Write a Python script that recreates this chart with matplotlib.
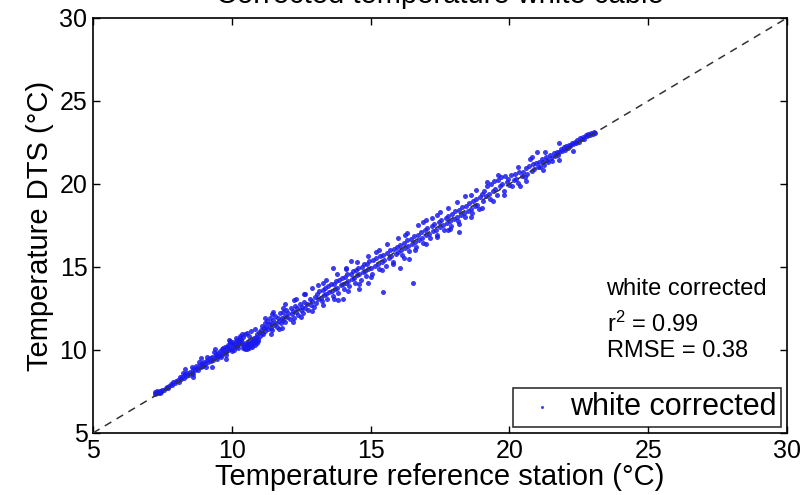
"""
Corrected DTS temperature (white cable) against the reference station,
with the 1:1 line, fit statistics and a legend in the lower right.

Output: out.png
"""
import matplotlib
matplotlib.use("Agg")
import matplotlib.pyplot as plt

plt.rcParams["font.family"] = ["Liberation Sans", "DejaVu Sans"]

# reference station temperature (x) and DTS temperature (y)
ref_temp = [
    7.22, 7.25, 7.28, 7.30, 7.33, 7.36, 7.40, 7.42, 7.45, 7.50,
    7.55, 7.62, 7.68, 7.72, 7.75, 7.80, 7.85, 7.90, 7.95, 8.00,
    8.05, 8.10, 8.12, 8.18, 8.22, 8.28, 8.32, 8.35, 8.40, 8.45,
    8.50, 8.55, 8.60, 8.62, 8.68, 8.72, 8.75, 8.80, 8.85, 8.88,
    8.92, 8.95, 9.00, 9.05, 9.08, 9.12, 9.15, 9.20, 9.25, 9.28,
    9.32, 9.38, 9.42, 9.45, 9.48, 8.25, 8.58, 8.82, 9.10, 9.35,
    9.52, 9.55, 9.58, 9.62, 9.65, 9.68, 9.72, 9.75, 9.78, 9.82,
    9.85, 9.88, 9.90, 9.94, 9.97, 10.00, 10.03, 10.06, 10.10, 10.12,
    10.15, 10.18, 10.20, 10.23, 10.26, 10.30, 10.32, 10.35, 10.38, 10.40,
    9.60, 9.80, 10.00, 10.08, 10.22, 9.70, 9.92, 10.14, 10.28, 10.36,
    10.42, 10.44, 10.45, 10.46, 10.48, 10.50, 10.50, 10.52, 10.53, 10.55,
    10.56, 10.58, 10.60, 10.60, 10.62, 10.63, 10.65, 10.66, 10.68, 10.70,
    10.72, 10.73, 10.75, 10.76, 10.78, 10.80, 10.82, 10.84, 10.86, 10.88,
    10.90, 10.92, 10.94, 10.96, 10.98, 10.55, 10.70, 10.85, 10.48, 10.62,
    11.02, 11.05, 11.08, 11.10, 11.12, 11.15, 11.18, 11.20, 11.24, 11.27,
    11.30, 11.33, 11.36, 11.40, 11.43, 11.46, 11.50, 11.53, 11.56, 11.60,
    11.63, 11.66, 11.70, 11.73, 11.76, 11.80, 11.83, 11.86, 11.90, 11.93,
    11.96, 12.00, 12.04, 12.08, 12.12, 12.16, 12.20, 12.24, 12.28, 12.32,
    12.36, 12.40, 12.44, 12.48, 12.52, 12.56, 12.60, 12.65, 12.70, 12.75,
    12.80, 12.85, 12.90, 12.95, 11.45, 11.85, 12.25, 12.62, 12.90, 11.70,
    13.00, 13.04, 13.08, 13.12, 13.16, 13.20, 13.24, 13.28, 13.32, 13.36,
    13.40, 13.44, 13.48, 13.52, 13.56, 13.60, 13.64, 13.68, 13.72, 13.76,
    13.80, 13.84, 13.88, 13.92, 13.96, 14.00, 14.04, 14.08, 14.12, 14.16,
    14.20, 14.24, 14.28, 14.32, 14.36, 14.40, 14.44, 14.48, 14.52, 14.56,
    14.60, 14.64, 14.68, 14.72, 14.76, 14.80, 14.84, 14.88, 14.92, 14.96,
    15.00, 15.05, 15.10, 15.15, 15.20, 15.25, 15.30, 15.35, 15.40, 15.45,
    15.50, 15.55, 15.60, 15.65, 15.70, 15.75, 15.80, 15.85, 15.90, 15.95,
    13.65, 13.83, 14.00, 14.30, 14.60, 14.90, 15.45, 13.30, 14.10, 15.20,
    16.00, 16.05, 16.10, 16.15, 16.20, 16.25, 16.30, 16.35, 16.40, 16.45,
    16.50, 16.55, 16.60, 16.65, 16.70, 16.75, 16.80, 16.85, 16.90, 16.95,
    17.00, 17.05, 17.10, 17.15, 17.20, 17.25, 17.30, 17.35, 17.40, 17.45,
    17.50, 17.55, 17.60, 17.65, 17.70, 17.75, 17.80, 17.85, 17.90, 17.95,
    18.00, 18.05, 18.10, 18.15, 18.20, 18.25, 18.30, 18.35, 18.40, 18.45,
    18.50, 18.55, 18.60, 18.65, 18.70, 18.75, 18.80, 18.85, 18.90, 18.95,
    16.53, 16.06, 16.40, 18.20, 16.90, 17.50, 16.25, 17.20, 18.60, 17.85,
    19.00, 19.05, 19.10, 19.15, 19.20, 19.25, 19.30, 19.35, 19.40, 19.45,
    19.50, 19.55, 19.60, 19.65, 19.70, 19.75, 19.80, 19.85, 19.90, 19.95,
    20.00, 20.05, 20.10, 20.15, 20.20, 20.25, 20.30, 20.35, 20.40, 20.45,
    20.50, 20.55, 20.60, 20.65, 20.70, 20.75, 20.80, 20.85, 20.90, 20.95,
    21.00, 21.03, 21.08, 21.12, 21.17, 21.22, 21.26, 21.31, 21.36, 21.40,
    21.45, 21.50, 21.55, 21.60, 21.64, 21.70, 21.75, 21.80, 21.85, 21.90,
    21.95, 22.00, 22.05, 22.10, 22.15, 22.20, 22.25, 22.30, 22.35, 22.40,
    22.45, 22.50, 22.55, 22.60, 22.65, 22.70, 22.75, 22.80, 22.85, 22.90,
    22.95, 23.00, 23.05, 23.10,
    # upper edge of the cloud
    8.30, 8.90, 9.40, 9.90, 11.20, 11.50, 11.90, 12.30, 12.60, 13.10,
    13.40, 13.80, 14.10, 14.50, 14.90, 15.30, 15.60, 16.00, 16.30, 16.70,
    17.00, 17.40, 17.80, 18.10, 18.40, 18.80, 19.20, 19.60, 20.30, 20.80,
    21.30, 21.80,
    # lower edge of the cloud
    8.60, 9.30, 9.80, 11.40, 11.80, 12.20, 12.50, 12.90, 13.30, 13.70,
    14.20, 14.60, 15.00, 15.40, 15.80, 16.20, 16.60, 17.00, 17.40, 17.80,
    18.20, 18.60, 19.00, 19.40, 19.80, 20.60, 21.20, 21.80, 22.30,
]
dts_temp = [
    7.35, 7.45, 7.38, 7.52, 7.42, 7.48, 7.40, 7.55, 7.47, 7.60,
    7.58, 7.70, 7.78, 7.68, 7.82, 7.95, 7.90, 8.05, 8.00, 8.15,
    8.20, 8.05, 8.35, 8.25, 8.40, 8.30, 8.55, 8.42, 8.60, 8.48,
    8.70, 8.62, 8.85, 8.55, 8.80, 9.05, 8.90, 8.78, 9.10, 8.95,
    9.20, 9.02, 9.30, 9.15, 8.98, 9.40, 9.25, 9.50, 9.32, 9.60,
    9.40, 9.55, 9.75, 9.48, 9.62, 8.62, 8.95, 9.25, 9.55, 9.85,
    9.80, 9.65, 9.92, 9.70, 10.05, 9.82, 9.95, 10.15, 9.85, 10.20,
    10.00, 10.30, 10.10, 10.40, 10.05, 10.35, 10.22, 10.50, 10.15, 10.45,
    10.30, 10.62, 10.25, 10.55, 10.40, 10.70, 10.35, 10.60, 10.48, 10.80,
    9.55, 9.72, 9.95, 10.02, 10.12, 10.10, 10.55, 10.75, 10.85, 10.95,
    10.10, 10.20, 10.30, 10.05, 10.15, 10.25, 10.40, 10.12, 10.20, 10.35,
    10.08, 10.28, 10.18, 10.45, 10.30, 10.10, 10.22, 10.55, 10.38, 10.25,
    10.48, 10.15, 10.60, 10.35, 10.42, 10.70, 10.50, 10.30, 10.80, 10.58,
    10.45, 10.95, 10.68, 10.52, 11.10, 11.05, 11.15, 11.25, 10.95, 10.85,
    10.85, 11.20, 11.05, 11.45, 10.95, 11.30, 11.60, 11.15, 11.40, 11.75,
    11.25, 11.55, 11.90, 11.35, 11.65, 11.20, 11.80, 11.50, 12.05, 11.62,
    11.40, 11.95, 11.72, 12.20, 11.60, 11.90, 12.30, 11.78, 12.05, 11.70,
    12.40, 12.00, 12.25, 11.85, 12.50, 12.15, 12.35, 11.95, 12.65, 12.28,
    12.50, 12.10, 12.75, 12.40, 12.60, 12.25, 12.90, 12.55, 12.75, 12.40,
    13.05, 12.70, 12.95, 12.60, 12.15, 12.55, 13.00, 13.40, 13.75, 11.25,
    13.20, 12.85, 13.40, 13.05, 13.55, 13.15, 12.95, 13.60, 13.30, 13.75,
    13.35, 13.10, 13.85, 13.50, 13.95, 13.55, 13.25, 14.00, 13.70, 14.15,
    13.75, 13.45, 14.20, 13.90, 14.35, 13.95, 13.65, 14.40, 14.05, 14.55,
    14.15, 13.85, 14.60, 14.30, 14.75, 14.35, 14.05, 14.80, 14.50, 14.95,
    14.55, 14.20, 15.00, 14.70, 15.15, 14.75, 14.45, 15.20, 14.90, 15.35,
    14.95, 14.60, 15.40, 15.05, 15.55, 15.15, 14.85, 15.65, 15.30, 15.75,
    15.40, 15.05, 15.85, 15.55, 16.00, 15.65, 15.30, 16.10, 15.80, 16.20,
    14.94, 13.00, 13.10, 15.35, 13.70, 14.05, 13.50, 14.05, 14.95, 15.90,
    15.90, 16.30, 16.00, 15.70, 16.45, 16.15, 16.60, 16.25, 15.95, 16.70,
    16.40, 16.85, 16.50, 16.20, 16.95, 16.65, 17.10, 16.75, 16.45, 17.20,
    16.90, 17.35, 17.00, 16.75, 17.45, 17.15, 17.60, 17.25, 16.95, 17.70,
    17.40, 17.85, 17.50, 17.25, 17.95, 17.65, 18.10, 17.75, 17.45, 18.20,
    17.90, 18.35, 18.00, 17.75, 18.45, 18.15, 18.60, 18.25, 18.00, 18.70,
    18.40, 18.85, 18.50, 18.25, 18.95, 18.65, 19.10, 18.75, 18.50, 19.20,
    14.04, 14.94, 15.50, 17.10, 17.70, 18.30, 16.95, 17.95, 19.35, 17.30,
    19.40, 19.00, 19.60, 19.25, 19.85, 19.40, 19.10, 20.00, 19.55, 20.15,
    19.70, 19.35, 20.25, 19.85, 20.40, 20.00, 19.60, 20.50, 20.10, 20.30,
    19.95, 20.55, 19.90, 20.25, 20.60, 20.30, 20.05, 20.70, 19.90, 20.50,
    20.70, 20.45, 20.95, 20.62, 21.10, 21.50, 20.78, 21.20, 20.92, 21.28,
    21.90, 21.05, 21.35, 21.02, 21.48, 21.30, 21.12, 21.60, 21.45, 21.35,
    21.75, 21.55, 21.40, 21.85, 21.70, 21.95, 21.72, 21.90, 22.10, 21.98,
    22.20, 22.05, 22.30, 22.15, 22.35, 22.28, 22.45, 22.40, 22.55, 22.45,
    22.65, 22.55, 22.75, 22.70, 22.80, 22.72, 22.95, 22.88, 23.00, 22.95,
    23.08, 23.02, 23.12, 23.08,
    # upper edge of the cloud
    8.85, 9.50, 10.05, 10.60, 11.95, 12.30, 12.75, 13.05, 13.35, 13.90,
    14.20, 14.55, 14.85, 15.30, 15.65, 16.05, 16.40, 16.75, 17.05, 17.50,
    17.80, 18.15, 18.55, 18.90, 19.25, 19.65, 20.10, 20.55, 21.00, 21.60,
    21.95, 22.45,
    # lower edge of the cloud
    8.35, 9.00, 9.45, 10.95, 11.30, 11.70, 12.00, 12.35, 12.70, 13.10,
    13.55, 14.00, 14.40, 14.80, 15.20, 15.55, 16.00, 16.40, 16.80, 17.20,
    17.60, 18.00, 18.55, 18.95, 19.35, 20.20, 20.85, 21.45, 22.00,
]

stats_lines = ["white corrected", r"$\mathregular{r^2}$ = 0.99", "RMSE = 0.38"]
axis_ticks = [5, 10, 15, 20, 25, 30]

fig = plt.figure(figsize=(8.05, 4.95), dpi=100)
ax = fig.add_axes([0.1155, 0.1253, 0.8621, 0.8384])

ax.scatter(ref_temp, dts_temp, s=13, color="#1a1aee", alpha=0.85, linewidths=0,
           label="white corrected", zorder=2)
ax.plot([5, 30], [5, 30], color="#333333", linewidth=1.1, dashes=(5, 4), zorder=3)

ax.set_xlim(5, 30)
ax.set_ylim(5, 30)
ax.set_xticks(axis_ticks)
ax.set_yticks(axis_ticks)
ax.tick_params(direction="in", top=True, right=True, length=5, width=1,
               labelsize=18, pad=4)
for sp in ax.spines.values():
    sp.set_linewidth(1.2)

ax.set_xlabel("Temperature reference station (°C)", fontsize=21, labelpad=0)
ax.set_ylabel("Temperature DTS (°C)", fontsize=21, labelpad=4)
# title sits mostly above the figure edge, as in the source image
ax.set_title("Corrected temperature white cable", fontsize=21, pad=11)

# fit statistics
for y, txt in zip([13.7, 11.55, 9.95], stats_lines):
    ax.text(23.5, y, txt, fontsize=17, va="center", ha="left")

leg = ax.legend(loc="lower right", fontsize=22, frameon=True, fancybox=False,
                edgecolor="black", borderaxespad=0.2, borderpad=0.15,
                handlelength=1.6, handletextpad=0.1, scatterpoints=1,
                markerscale=0.6)
leg.get_frame().set_linewidth(1.2)

fig.savefig("out.png", dpi=100)
